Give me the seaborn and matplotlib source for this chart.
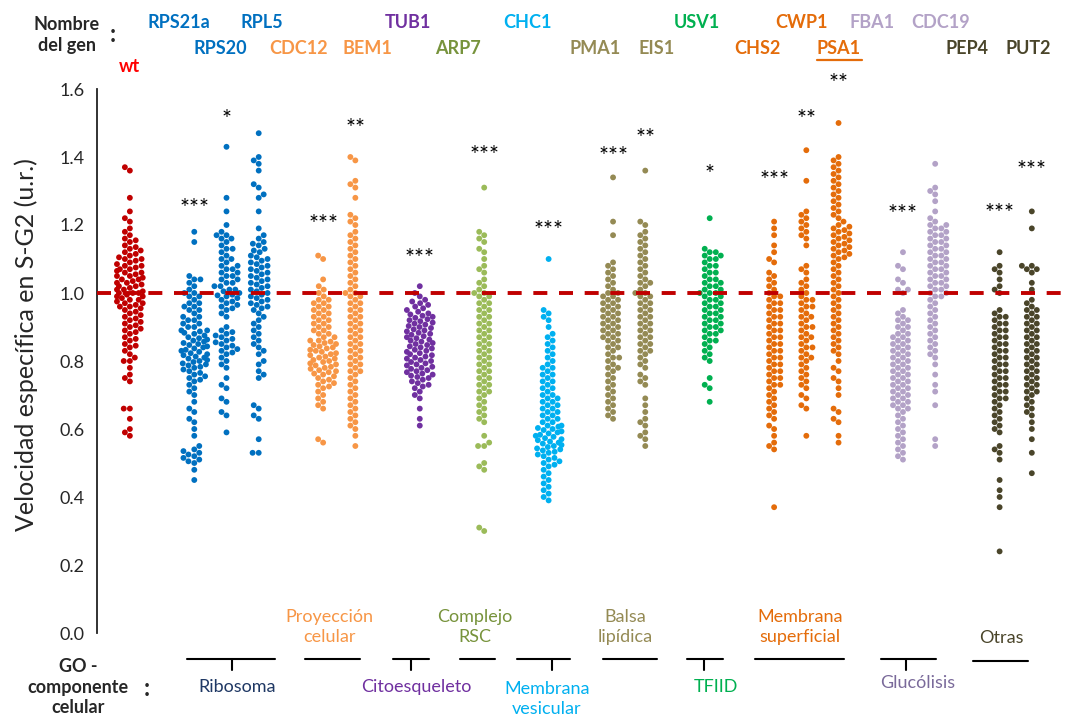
import warnings
warnings.filterwarnings("ignore")
import numpy as np
import pandas as pd
import matplotlib
matplotlib.use("Agg")
import matplotlib.pyplot as plt
import seaborn as sns

# ---------------- data (values x100) ----------------
wt = [137,136,128,124,122,121,119,118,117,116,115.5,115,114,113.5,113,112.5,112,111.5,111,110.5,110,110,109.5,109,
      108.5,108,108,107.5,107,107,106.5,106,106,105.5,105,105,104.5,104,104,103.5,103,103,102.5,102,102,101.5,101,
      101,100.5,100,100,100,99.5,99,99,98.5,98,98,97.5,97,97,96.5,96,96,95.5,95,94.5,94,93.5,93,92.5,92,91.5,91,
      90.5,90,89.5,89,88.5,88,87,86.5,86,85,84.5,84,83,82,81,80,80,78,76,75,74,66,66,63,60,59,58]
rps21a = [118,115,105,104,104,103,102,101,100,100,99,99,98,97,97,96,96,95,95,94,93,93,92,92,91,91,90,90,89,89,
          88.7,88.3,88,87.5,87,86.7,86.3,86,85.7,85.3,85,84.7,84.3,84,83.7,83.3,83,82.7,82.3,82,81.7,81.3,81,80.7,
          80.3,80,79.7,79.3,79,78.7,78.3,78,77.5,77,76.5,76,75.5,75,74.5,74,73,72,71,70,68,66,65,63,62,60,58,55,54,
          53.5,53,52.5,52,51.5,51,50.5,50,48,45]
rps20 = [143,128,124,120,118,117,117,116,116,115,114,113,113,112,111,110,110,109,108,108,107,107,106,106,105,105,104,
         104,103,103,102,102,101,101,100.5,100,99.5,99.3,99,98.5,98,97.5,97,96.5,96,95.5,95,94,93,90,89,88.5,88,87.5,
         87,86.5,86,85.5,85,84.5,84,83.5,83,82.5,82,81,80,79,78,75,73,72,69,68,65,64,59]
rpl5 = [147,140,139,138,136,132,131,129,128,124,119,117,116,115,114.5,114,113,112.5,112,111,110.5,110,109.5,109,108.5,
        108,107.5,107,106.5,106,105.5,105,104.5,104,103.5,103,102.5,102,101.5,101,100.5,100,99.5,99,98.5,98,97.5,97,
        96.5,96,95.5,95,94,93,92,91,90,89,88,87,86,85,84,83,82,80,79,77,76,75,67,66,64,63,57,53,53]
cdc12 = [111,110,104,102,101,100,99,98,98,97,97,96,96,95,95,94,94,93,93,92,92,91,91,90,90,89,89,88,88,87,87,86,86,
         85.7,85.3,85,84.7,84.3,84,83.7,83.3,83,82.7,82.3,82,81.7,81.3,81,80.7,80.3,80,79.7,79.3,79,78.7,78.3,78,
         77.7,77.3,77,76.7,76.3,76,75.5,75,74.5,74,73.5,73,72.5,72,71,70,69,68,67,66,57,56]
bem1 = [140,139,133,132,131,128,123,122,121,120,118,117,116,115,114,113,112,111,110,109,108,107,106,105,104,103,102,
        101,100,100,99,99,98,97,97,96,95,95,94,93,93,92,91,91,90,89,89,88,87,87,86,85,85,84,83,83,82,81,81,80,79,79,
        78,77,77,76,75,74,73,72,71,70,69,68,67,66,65,64,63,62,61,60,58,55]
tub1 = [102,100,99,98,97.5,97,96.5,96,95.5,95,94.5,94,93.7,93.3,93,92.7,92.3,92,91.7,91.3,91,90.7,90.3,90,89.7,89.3,
        89,88.7,88.3,88,87.7,87.3,87,86.7,86.3,86,85.7,85.3,85,84.7,84.3,84,83.7,83.3,83,82.7,82.3,82,81.7,81.3,81,
        80.7,80.3,80,79.7,79.3,79,78.7,78.3,78,77.7,77.3,77,76.7,76.3,76,75.7,75.3,75,74.5,74,73.5,73,72.5,72,71,70,
        69,66,63,61]
arp7 = [131,118,117,116,115,113,112,110,108,107,106,104,103,102,101,100,100,99,99,98,97,97,96,95,95,94,93,93,92,91,
        91,90,89,89,88,87,87,86,85,85,84,83,83,82,81,81,80,79,79,78,77,77,76,75,75,74,73,73,72,71,71,70,69,68,67,66,
        65,64,63,62,58,56,55,55,50,49,48,31,30]
chc1 = [110,95,94,93,92,90,88,87,86,85,84,83,82,81,80,79,78,78,77,76,76,75,74,74,73,72,72,71,70,70,69,69,68,68,67,67,
        66,66,65,65,64,64,63,63,62,62,61,61,60.7,60.3,60,59.7,59.3,59,58.7,58.3,58,57.7,57.3,57,56.7,56.3,56,55.7,
        55.3,55,54.7,54.3,54,53.7,53.3,53,52.5,52,51.5,51,50.5,50,49.5,49,48,47,46,45,44,43,42,41,40,39]
pma1 = [134,121,117,109,108,107,106,105,104,103,102,101,100,100,99,99,98,98,97,97,96,96,95,95,94,94,93,93,92,92,91,
        91,90,90,89,89,88,88,87,87,86,86,85,84,84,83,82,81,81,80,79,78,78,77,76,75,74,73,72,71,70,69,68,67,66,65,64,63]
eis1 = [136,121,120,118,117,116,115,114,113,112,111,110,109,108,107,106,105,104,103,103,102,101,100,100,99,99,98,97,
        97,96,95,95,94,93,93,92,91,91,90,89,89,88,87,87,86,85,85,84,83,83,82,81,80,79,78,76,75,74,73,69,67,65,63,62,
        61,59,58,57,55]
usv1 = [122,113,112,112,111,111,110,110,109,108,108,107,106,106,105,104,104,103,103,102,102,101,101,100,100,100,99,
        99,98,98,97,97,96,96,95,95,94,94,93,93,92,92,91,91,90,90,89,89,88,88,87,86,86,85,84,83,82,81,80,75,73,72,68]
chs2 = [121,119,117,114,112,110,109,106,105,104,103,102,101,100,99,99,98,97,97,96,95,95,94,93,93,92,91,91,90,89,89,
        88,87,87,86,85,85,84,83,83,82,81,81,80,79,79,78,77,77,76,75,75,74,73,73,72,71,70,69,68,67,66,65,64,63,61,60,
        58,56,55,54,37]
cwp1 = [142,133,124,123,122,121,120,119,118,117,116,114,108,107,106,104,103,102,101,100,99,98,98,97,96,96,95,94,93,
        93,92,91,90,90,89,88,87,87,86,85,84,84,83,82,81,81,80,79,78,77,76,75,74,73,72,70,69,67,66,58]
psa1 = [150,140,139,138,137,136,135,134,133,132,131,130,129,128,127,126,125,124,123,122,121,120,119.5,119,118.5,118,
        117.5,117,116.5,116,115.5,115,114.5,114,113.5,113,112.5,112,111.5,111,110.5,110,109,108,107,106,105,104,103,
        102,101,100,99,98,97,96,95,94,93,92,91,90,89,88,87,86,85,84,83,82,80,78,77,75,74,72,70,66,65,63,62,58,56]
fba1 = [112,108,107,104,103,101,101,100,95,94,93,92,92,91,90,90,89,88,88,87,87,86,86,85,85,84,84,83,83,82,82,81,81,
        80,80,79,79,78,78,77,77,76,76,75,75,74,74,73,73,72,72,71,71,70,70,69,69,68,68,67,67,66,66,65,64,63,62,61,60,
        59,58,57,56,55,54,53,52,51]
cdc19 = [138,131,130,129,127,124,122,121,120,120,119,119,118,118,117,117,116,116,115,115,114,114,113,113,112,112,111,
         111,110,110,109,109,108,108,107,107,106,106,105,105,104,104,103,103,102,102,101,101,100,100,99,99,98,97,96,95,
         94,93,92,91,90,89,88,87,86,85,84,83,82,81,79,76,73,71,67,57,55]
pep4 = [112,108,107,106,104,102,101,100,95,94,93,93,92,91,91,90,89,89,88,87,87,86,85,85,84,83,83,82,81,81,80,79,79,
        78,77,77,76,75,75,74,73,73,72,71,71,70,69,69,68,67,66,65,64,63,62,61,60,59,55,54,53,51,45,42,40,37,24]
put2 = [124,119,108,108,107,107,106,103,101,98,97,96,95,95,94,93,93,92,91,91,90,89,89,88,87,87,86,85,85,84,83,83,82,
        81,81,80,79,79,78,77,77,76,75,75,74,73,73,72,71,71,70,69,68,67,66,65,64,62,60,57,53,47]

strains = ["wt", "RPS21a", "RPS20", "RPL5", "CDC12", "BEM1", "TUB1", "ARP7", "CHC1", "PMA1", "EIS1",
           "USV1", "CHS2", "CWP1", "PSA1", "FBA1", "CDC19", "PEP4", "PUT2"]
series = [wt, rps21a, rps20, rpl5, cdc12, bem1, tub1, arp7, chc1, pma1, eis1,
          usv1, chs2, cwp1, psa1, fba1, cdc19, pep4, put2]
signif = ["", "***", "*", "", "***", "**", "***", "***", "***", "***", "**",
          "*", "***", "**", "**", "***", "", "***", "***"]
signif_y = [0, 1.25, 1.51, 0, 1.20, 1.485, 1.10, 1.405, 1.185, 1.40, 1.455,
            1.35, 1.33, 1.51, 1.615, 1.23, 0, 1.235, 1.36]

# category slots, with empty slots separating GO groups
order = ["wt", "g1", "RPS21a", "RPS20", "RPL5", "g2", "CDC12", "BEM1", "g3", "TUB1", "g4", "ARP7", "g5",
         "CHC1", "g6", "PMA1", "EIS1", "g7", "USV1", "g8", "CHS2", "CWP1", "PSA1", "g9", "FBA1", "CDC19",
         "g10", "PEP4", "PUT2"]

point_col = {"wt": "#C00000", "RPS21a": "#0070C0", "RPS20": "#0070C0", "RPL5": "#0070C0",
             "CDC12": "#F79646", "BEM1": "#F79646", "TUB1": "#7030A0", "ARP7": "#9BBB59",
             "CHC1": "#00B0F0", "PMA1": "#948A54", "EIS1": "#948A54", "USV1": "#00B050",
             "CHS2": "#E46C0A", "CWP1": "#E46C0A", "PSA1": "#E46C0A", "FBA1": "#B3A2C7",
             "CDC19": "#B3A2C7", "PEP4": "#4A452A", "PUT2": "#4A452A"}
label_col = dict(point_col)
label_col["ARP7"] = "#77933C"

df = pd.DataFrame({"strain": np.repeat(strains, [len(s) for s in series]),
                   "value": np.concatenate([np.array(s, dtype=float) / 100.0 for s in series])})

# ---------------- figure ----------------
W, H = 1070, 725
sns.set_style("white")
plt.rcParams["font.family"] = ["Lato", "DejaVu Sans"]
fig = plt.figure(figsize=(W / 100, H / 100), dpi=100)
ax = fig.add_axes([97 / W, 1 - 633 / H, 968 / W, 544 / H])


def fx(px):
    return px / W


def fy(py):
    return 1 - py / H


sns.swarmplot(data=df, x="strain", y="value", order=order, hue="strain", hue_order=strains,
              palette=point_col, legend=False, size=4.2, linewidth=0, ax=ax, zorder=3)

ax.axhline(1.0, color="#C00000", lw=2.8, linestyle=(0, (3.6, 3.0)), zorder=4)

ax.set_xlim(-1.02, 29.03)
ax.set_ylim(0, 1.6)
ax.set_yticks(np.arange(0, 1.61, 0.2))
ax.set_yticklabels([f"{v:.1f}" for v in np.arange(0, 1.61, 0.2)], fontsize=13)
ax.set_xticks([])
ax.set_xlabel("")
ax.set_ylabel("")
for s in ["top", "right", "bottom"]:
    ax.spines[s].set_visible(False)
ax.spines["left"].set_color("#222222")
ax.spines["left"].set_linewidth(1.3)
ax.tick_params(axis="y", direction="out", length=6, width=1.3, color="#222222", pad=3)
ax.patch.set_alpha(0)

# significance stars
for name, s, y in zip(strains, signif, signif_y):
    if s:
        ax.text(order.index(name), y, s, ha="center", va="center", fontsize=17, color="black",
                clip_on=False, zorder=5)

ax.text(0, 1.665, "wt", ha="center", va="center", fontsize=13, fontweight="bold", color="#FF0000",
        clip_on=False)

fig.text(fx(26), fy(345), "Velocidad específica en S-G2 (u.r.)", rotation=90, ha="center",
         va="center", fontsize=18)

# gene names (two rows)
gene_px = {"RPS21a": (179, 23), "RPL5": (262, 23), "TUB1": (408, 23), "CHC1": (528, 23),
           "USV1": (697, 23), "CWP1": (802, 23), "FBA1": (872, 23), "CDC19": (941, 23),
           "RPS20": (220, 48), "CDC12": (299, 48), "BEM1": (367, 48), "ARP7": (458, 48),
           "PMA1": (595, 48), "EIS1": (657, 48), "CHS2": (757, 48), "PSA1": (839, 48),
           "PEP4": (967, 48), "PUT2": (1028, 48)}
for g, (px, py) in gene_px.items():
    fig.text(fx(px), fy(py), g, ha="center", va="center", fontsize=13, fontweight="bold",
             color=label_col[g])
fig.add_artist(plt.Line2D([fx(817), fx(862)], [fy(60), fy(60)], color="#E46C0A", lw=1.6))

fig.text(fx(67), fy(35), "Nombre\ndel gen", ha="center", va="center", fontsize=13,
         fontweight="bold", linespacing=1.25)
fig.text(fx(113), fy(35), ":", ha="center", va="center", fontsize=17, fontweight="bold")

fig.text(fx(78), fy(687), "GO -\ncomponente\ncelular", ha="center", va="center", fontsize=13,
         fontweight="bold", linespacing=1.25)
fig.text(fx(147), fy(688), ":", ha="center", va="center", fontsize=17, fontweight="bold")

# GO component group brackets
groups = [
    ("Ribosoma", "#1F3864", 187, 275, 232, (237, 687)),
    ("Proyección\ncelular", "#F79646", 305, 360, None, (329, 627)),
    ("Citoesqueleto", "#7030A0", 393, 429, 411, (416, 687)),
    ("Complejo\nRSC", "#77933C", 460, 495, None, (475, 627)),
    ("Membrana\nvesicular", "#00B0F0", 517, 570, 552, (547, 699)),
    ("Balsa\nlipídica", "#948A54", 603, 657, None, (625, 627)),
    ("TFIID", "#00B050", 687, 723, 704, (716, 687)),
    ("Membrana\nsuperficial", "#E46C0A", 755, 844, None, (800, 627)),
    ("Glucólisis", "#7A6A9A", 881, 936, 906, (918, 683)),
    ("Otras", "#4A452A", 973, 1028, None, (1001, 638)),
]
for text, col, x0, x1, tick, (tx, ty) in groups:
    yl = 661 if text == "Otras" else 659
    fig.add_artist(plt.Line2D([fx(x0), fx(x1)], [fy(yl), fy(yl)], color="black", lw=1.5))
    if tick is not None:
        fig.add_artist(plt.Line2D([fx(tick), fx(tick)], [fy(yl), fy(yl + 11)], color="black", lw=1.5))
    fig.text(fx(tx), fy(ty), text, ha="center", va="center", fontsize=13, color=col,
             linespacing=1.35)

fig.savefig("out.png", dpi=100)
